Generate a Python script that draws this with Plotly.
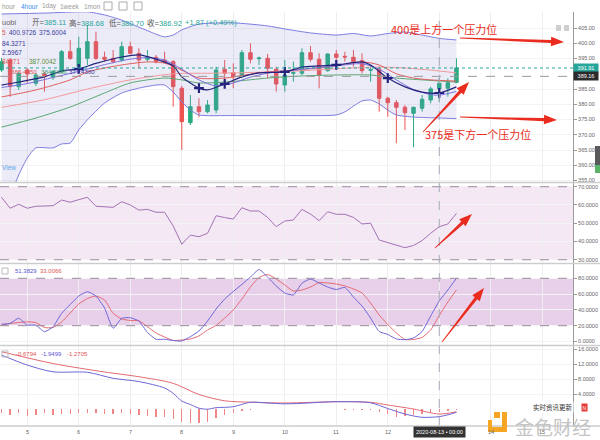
import math
import plotly.graph_objects as go

# ---------------- data ----------------
day_labels = [5, 6, 7, 8, 9, 10, 11, 12, 13, 14, 15]
candles_per_day = 6
day5_index = 3
cross_index = 51
cross_time_text = "2020-08-13 • 00:00"
cross_price = 389.16

opens = [391.25, 394.52, 385.77, 391.25, 386.89, 389.93, 388.85, 390.69, 397.25, 392.33,
         395.08, 400.52, 395.41, 395.08, 394.52, 398.89, 396.72, 394.75, 395.41, 394.52,
         393.97, 385.25, 373.97, 379.21, 377.57, 378.13, 391.48, 390.36, 389.05, 396.92,
         394.95, 395.08, 391.48, 386.33, 390.16, 390.16, 396.92, 394.75, 391.02, 396.49,
         395.74, 395.41, 394.30, 391.15, 391.48, 381.97, 380.52, 379.02, 377.05, 378.69,
         381.41, 385.11, 385.25, 387.20]
highs = [395.20, 395.18, 390.59, 391.90, 390.26, 390.59, 391.25, 397.80, 401.08, 402.16,
         406.00, 403.80, 397.25, 397.80, 400.52, 400.52, 398.36, 397.80, 396.16, 397.25,
         394.52, 386.00, 383.05, 381.97, 381.41, 392.33, 394.52, 393.44, 397.80, 400.00,
         395.61, 396.49, 392.33, 394.52, 393.97, 398.36, 399.11, 396.72, 396.72, 397.80,
         397.25, 397.80, 396.72, 392.89, 392.33, 382.49, 381.41, 379.77, 379.21, 383.05,
         385.77, 388.68, 388.52, 395.08]
lows = [390.60, 382.49, 384.69, 386.98, 386.00, 384.13, 387.97, 390.26, 394.52, 391.90,
        392.89, 394.52, 393.97, 393.44, 393.97, 396.40, 391.80, 393.97, 393.44, 393.44,
        379.21, 365.02, 373.21, 375.74, 377.05, 377.05, 386.33, 385.25, 388.52, 393.44,
        392.89, 388.52, 384.13, 384.13, 387.41, 389.61, 393.97, 385.25, 390.69, 393.44,
        393.97, 392.33, 390.16, 387.41, 377.57, 375.93, 367.21, 371.57, 365.90, 377.57,
        380.33, 380.70, 382.49, 386.89]
closes = [393.97, 385.77, 390.16, 389.93, 389.61, 389.28, 390.69, 397.25, 395.08, 398.36,
          400.52, 395.08, 394.75, 393.97, 398.89, 396.72, 394.52, 395.41, 393.97, 393.97,
          385.77, 374.30, 379.21, 377.57, 379.77, 391.25, 390.16, 389.05, 396.92, 394.75,
          395.18, 391.80, 386.66, 389.61, 390.36, 396.92, 394.75, 389.61, 396.49, 395.41,
          395.51, 393.97, 391.02, 391.34, 381.97, 380.52, 379.02, 377.25, 379.02, 381.64,
          385.05, 386.92, 387.08, 391.91]

boll_up_x = [0, 5, 10, 12, 14, 16, 18, 19, 20, 21, 23, 27, 31, 33, 36, 39, 41, 43, 45, 47, 49, 51, 53]
boll_up = [409.6, 409.9, 410.3, 409.3, 407.6, 405.3, 403.0, 402.1, 402.7, 404.4, 406.3, 406.7,
           405.7, 404.7, 403.4, 402.7, 403.2, 402.4, 403.2, 403.7, 402.7, 401.6, 401.1]
boll_lo_x = [0, 1, 2, 3, 4, 6, 7, 8, 9, 10, 12, 14, 16, 18, 19, 20, 21, 22, 23, 27, 33, 39,
             40, 41, 42, 43, 44, 45, 46, 48, 51, 53]
boll_lo = [347.0, 350.3, 356.8, 362.4, 365.7, 365.7, 367.0, 367.3, 371.6, 374.9, 380.4, 383.7,
           385.3, 386.3, 386.3, 384.0, 380.8, 378.1, 376.5, 376.3, 376.3, 376.5, 377.5, 379.4,
           381.1, 381.4, 380.1, 378.1, 376.5, 375.8, 375.5, 375.3]

navy_x = [0, 2, 5, 7, 9, 11, 14, 16, 18, 20, 21, 23, 24, 26, 28, 30, 33, 35, 37, 39, 42, 43, 45, 47, 49, 51, 53]
navy = [386.3, 387.3, 389.0, 390.9, 391.6, 393.4, 395.5, 396.2, 394.8, 392.6, 389.0, 385.3, 384.7,
        386.7, 389.0, 390.3, 390.6, 392.2, 392.6, 392.9, 393.9, 392.9, 388.6, 385.7, 384.0, 383.7, 385.7]
navy_cross_marks = [9, 23, 26, 33, 39, 45, 51]
purple_x = [0, 3, 6, 9, 12, 15, 17, 19, 21, 23, 25, 27, 29, 31, 33, 36, 39, 42, 44, 46, 48, 50, 51, 53]
purple = [385.5, 386.8, 388.8, 390.8, 393.0, 394.8, 395.3, 394.5, 391.5, 388.0, 386.0, 387.0,
          388.9, 390.2, 390.8, 391.8, 392.6, 393.3, 391.5, 388.0, 384.8, 383.2, 383.0, 384.2]
red_x = [0, 4, 8, 10, 14, 17, 19, 21, 23, 26, 30, 34, 38, 42, 44, 46, 48, 50, 53]
red_ma = [382.4, 384.7, 388.0, 390.6, 392.9, 393.9, 393.5, 391.2, 388.6, 388.6, 390.3, 391.2,
          392.2, 393.9, 392.9, 390.0, 388.6, 388.0, 387.6]
pink_x = [0, 5, 10, 15, 20, 25, 30, 35, 40, 44, 47, 50, 53]
pink_ma = [379.0, 381.5, 385.0, 388.0, 390.0, 390.2, 390.5, 391.0, 391.8, 392.2, 391.9, 391.2, 390.3]
green_x = [0, 4, 8, 12, 15, 19, 21, 23, 27, 31, 35, 39, 43, 46, 49, 53]
green_ma = [372.5, 375.5, 379.1, 383.7, 387.0, 388.6, 388.0, 387.0, 387.5, 388.6, 389.3, 389.6,
            389.6, 388.6, 388.0, 387.3]

rsi = [64.2, 58.2, 60.4, 58.2, 59.3, 59.4, 59.6, 62.7, 61.5, 62.9,
       64.2, 59.3, 59.0, 58.7, 61.8, 60.0, 57.2, 57.6, 56.0, 56.0,
       48.5, 38.5, 43.5, 42.6, 44.5, 54.1, 53.1, 52.3, 58.5, 56.7,
       56.7, 53.2, 48.1, 51.2, 51.8, 57.6, 55.0, 51.4, 56.3, 54.9,
       54.9, 53.2, 49.6, 50.0, 40.8, 39.3, 38.1, 36.6, 37.8, 40.5,
       44.5, 48.1, 49.6, 55.4]
kdj_k = [21.8, 23.0, 29.4, 20.9, 20.5, 12.4, 18.7, 35.7, 46.8, 57.6,
         63.0, 57.6, 42.4, 16.7, 29.4, 30.1, 25.9, 11.4, 2.8, 2.8,
         1.3, 0.6, 6.1, 13.3, 25.9, 41.1, 53.8, 63.3, 72.2, 81.6,
         91.1, 81.6, 70.3, 61.4, 58.9, 73.7, 79.1, 74.1, 69.0, 65.8,
         68.4, 56.3, 44.9, 29.7, 12.7, 8.9, 3.2, 2.3, 4.4, 12.7,
         32.3, 51.4, 65.2, 80.0]
kdj_d = [20.9, 22.8, 24.1, 24.9, 23.9, 17.7, 17.7, 24.7, 36.1, 47.5,
         54.4, 57.6, 52.5, 35.7, 28.5, 26.6, 26.3, 18.7, 10.8, 5.7,
         1.3, 1.9, 3.2, 7.0, 14.6, 20.3, 29.7, 39.9, 53.8, 69.0,
         81.0, 84.8, 79.1, 71.5, 63.9, 65.2, 69.0, 74.7, 74.1, 72.8,
         70.3, 66.5, 61.4, 48.7, 33.5, 21.5, 10.8, 2.5, 2.5, 5.1,
         14.6, 33.0, 50.0, 65.2]
dif_x = [0, 3, 6, 10, 13, 16, 19, 20, 21, 22, 23, 24, 25, 27, 29, 31, 33, 35, 39, 43, 45, 47, 49, 51, 52, 53]
dif = [14.48, 11.8, 10.0, 9.87, 8.27, 7.4, 5.68, 4.27, 2.2, 1.28, 0.29, 0.03, 0.43, 0.69, 1.89,
       1.68, 1.47, 1.6, 2.03, 1.73, 0.21, -1.25, -2.13, -1.95, -1.47, -0.8]
dea_x = [0, 6, 12, 16, 20, 23, 26, 29, 33, 39, 43, 45, 48, 51, 53]
dea = [15.36, 12.2, 9.95, 8.69, 6.93, 3.95, 2.27, 1.89, 1.68, 2.03, 1.87, 1.15, 0.08, -1.27, -0.64]
macd_hist = [-1.07, -1.52, -1.07, -1.79, -1.52, -1.07, -1.52, -1.25, -1.25, -1.07,
             -0.9, -1.07, -1.25, -1.25, -1.07, -1.25, -1.52, -1.79, -1.97, -2.13,
             -2.67, -3.31, -3.57, -3.57, -3.31, -2.4, -1.52, -1.07, -0.37, -0.19,
             0.1, 0.15, 0.12, 0.1, 0.12, 0.2, 0.2, 0.15, 0.1, 0.1,
             -0.1, -0.15, -0.2, -0.3, -0.64, -1.25, -2.13, -1.79, -1.52, -1.25,
             -0.9, -0.68, -0.37, -0.1]

price_ticks = [355, 360, 365, 370, 375, 380, 385, 395, 400, 405]
rsi_ticks = [30, 40, 50, 60, 70]
kdj_ticks = [0, 20, 40, 60, 80]
macd_ticks = [4, 8, 12, 16]
rsi_levels = [30, 70]
kdj_levels = [20, 80]

toolbar_items = ["hour", "4hour", "1day", "1week", "1mon"]
boll_legend = ["5", "400.9726", "375.6004"]
ma_legend = ["84.3271", "2.5967", "84271", "387.0042", "385.4850", "384.5686", "377.4380"]
kdj_legend = ["51.3829", "33.0066"]
macd_legend = ["-0.6794", "-1.9499", "-1.2705"]
note_up = "400是上方一个压力位"
note_down = "375是下方一个压力位"

# ---------------- layout helpers ----------------
W, H = 600, 440
GREEN = "#26ad7f"
RED = "#ef5350"
FONT = "Liberation Sans, Arial, Noto Sans CJK SC, sans-serif"
CJK = "Noto Sans CJK SC, sans-serif"


def px(x):
    return x / W


def py(y):
    return 1 - y / H


idx = list(range(len(opens)))
XR = [-0.18, 66.58]
day_idx = [day5_index + candles_per_day * (d - 5) for d in day_labels]

fig = go.Figure()

# Bollinger bands
fig.add_trace(go.Scatter(x=boll_up_x, y=boll_up, mode="lines", line=dict(color="#7c7ce0", width=1, shape="spline", smoothing=0.6),
                         xaxis="x", yaxis="y", hoverinfo="skip", showlegend=False))
fig.add_trace(go.Scatter(x=boll_lo_x, y=boll_lo, mode="lines", line=dict(color="#7c7ce0", width=1, shape="spline", smoothing=0.6),
                         fill="tonexty", fillcolor="rgba(125,125,205,0.15)",
                         xaxis="x", yaxis="y", hoverinfo="skip", showlegend=False))

# candles
fig.add_trace(go.Candlestick(x=idx, open=opens, high=highs, low=lows, close=closes,
                             increasing=dict(line=dict(color=GREEN, width=1), fillcolor=GREEN),
                             decreasing=dict(line=dict(color=RED, width=1), fillcolor=RED),
                             whiskerwidth=0, xaxis="x", yaxis="y", hoverinfo="skip", showlegend=False))

# moving averages
for xs, ys, col, w in [(green_x, green_ma, "#5aa772", 1), (pink_x, pink_ma, "#f29a9a", 1),
                       (red_x, red_ma, "#e06060", 1), (purple_x, purple, "#7b70dc", 1),
                       (navy_x, navy, "#23237e", 1.2)]:
    fig.add_trace(go.Scatter(x=xs, y=ys, mode="lines", line=dict(color=col, width=w, shape="spline", smoothing=0.7),
                             xaxis="x", yaxis="y", hoverinfo="skip", showlegend=False))
navy_lookup = dict(zip(navy_x, navy))
fig.add_trace(go.Scatter(x=navy_cross_marks, y=[navy_lookup[i] for i in navy_cross_marks], mode="markers",
                         marker=dict(symbol="cross-thin", size=7, line=dict(color="#23237e", width=2.2)),
                         xaxis="x", yaxis="y", hoverinfo="skip", showlegend=False))

# RSI
fig.add_trace(go.Scatter(x=idx, y=rsi, mode="lines", line=dict(color="#a472b6", width=1),
                         xaxis="x2", yaxis="y2", hoverinfo="skip", showlegend=False))
# KDJ
fig.add_trace(go.Scatter(x=idx, y=kdj_d, mode="lines", line=dict(color="#e46a72", width=1, shape="spline", smoothing=0.5),
                         xaxis="x3", yaxis="y3", hoverinfo="skip", showlegend=False))
fig.add_trace(go.Scatter(x=idx, y=kdj_k, mode="lines", line=dict(color="#6d66d8", width=1, shape="spline", smoothing=0.5),
                         xaxis="x3", yaxis="y3", hoverinfo="skip", showlegend=False))
# MACD
fig.add_trace(go.Bar(x=idx, y=macd_hist, width=0.16,
                     marker=dict(color=["#f08585" if v < 0 else "#7fcfa9" for v in macd_hist], line=dict(width=0)),
                     xaxis="x4", yaxis="y4", hoverinfo="skip", showlegend=False))
fig.add_trace(go.Scatter(x=dea_x, y=dea, mode="lines", line=dict(color="#e46a72", width=1, shape="spline", smoothing=0.8),
                         xaxis="x4", yaxis="y4", hoverinfo="skip", showlegend=False))
fig.add_trace(go.Scatter(x=dif_x, y=dif, mode="lines", line=dict(color="#6d66d8", width=1, shape="spline", smoothing=0.8),
                         xaxis="x4", yaxis="y4", hoverinfo="skip", showlegend=False))

# ---------------- axes ----------------
common_x = dict(range=XR, domain=[0, px(573)], showgrid=True, gridcolor="#eeeeee", gridwidth=1,
                tickvals=day_idx, showticklabels=False, ticks="", zeroline=False, showline=False, fixedrange=True)


def yax(dom, rng, ticks, fmt, anchor):
    return dict(domain=dom, range=rng, side="right", anchor=anchor, tickvals=ticks,
                ticktext=[fmt.format(t) for t in ticks],
                tickfont=dict(size=5.5, color="#666", family=FONT), showgrid=True, gridcolor="#f3f3f3",
                zeroline=False, showline=True, linecolor="#9a9a9a", linewidth=1, ticks="outside",
                ticklen=3, tickcolor="#9a9a9a", fixedrange=True)


fig.update_layout(
    width=W, height=H, autosize=False, margin=dict(l=0, r=0, t=0, b=0),
    paper_bgcolor="white", plot_bgcolor="white", hovermode=False, boxgap=0.42, bargap=0,
    showlegend=False, font=dict(family=FONT),
    xaxis=dict(**common_x, anchor="y", rangeslider=dict(visible=False)),
    xaxis2=dict(**common_x, anchor="y2"),
    xaxis3=dict(**common_x, anchor="y3"),
    xaxis4=dict(**common_x, anchor="y4"),
    yaxis=yax([py(182), py(12)], [354.52, 410.26], price_ticks, "{:.2f}", "x"),
    yaxis2=yax([py(263), py(183)], [28.22, 72.03], rsi_ticks, "{:.4f}", "x2"),
    yaxis3=yax([py(345), py(264)], [-4.43, 98.1], kdj_ticks, "{:.4f}", "x3"),
    yaxis4=yax([py(426), py(346)], [-4.45, 16.88], macd_ticks, "{:.4f}", "x4"),
)

shapes = []
# indicator zones
shapes.append(dict(type="rect", xref="x2 domain", x0=0, x1=1, yref="y2", y0=rsi_levels[0], y1=rsi_levels[1],
                   fillcolor="#f4e8f5", line=dict(width=0), layer="below"))
shapes.append(dict(type="rect", xref="x3 domain", x0=0, x1=1, yref="y3", y0=kdj_levels[0], y1=kdj_levels[1],
                   fillcolor="#e8d0ea", line=dict(width=0), layer="below"))
for lv in rsi_levels:
    shapes.append(dict(type="line", xref="x2 domain", x0=0, x1=1, yref="y2", y0=lv, y1=lv,
                       line=dict(color="#9a8a9c", width=1, dash="dash")))
for lv in kdj_levels:
    shapes.append(dict(type="line", xref="x3 domain", x0=0, x1=1, yref="y3", y0=lv, y1=lv,
                       line=dict(color="#9a8a9c", width=1, dash="dash")))
# price lines
shapes.append(dict(type="line", xref="x domain", x0=0, x1=1, yref="y", y0=closes[-1], y1=closes[-1],
                   line=dict(color="#26a69a", width=1, dash="dot")))
shapes.append(dict(type="line", xref="x domain", x0=0, x1=1, yref="y", y0=cross_price, y1=cross_price,
                   line=dict(color="#9a9a9a", width=1, dash="dash")))
# crosshair vertical
shapes.append(dict(type="line", xref="x", x0=cross_index, x1=cross_index, yref="paper", y0=py(426), y1=py(12),
                   line=dict(color="#a9a9bb", width=1, dash="dash")))
# panel separators
for yy in [182.5, 263.5, 345.5, 426]:
    shapes.append(dict(type="line", xref="paper", x0=0, x1=1, yref="paper", y0=py(yy), y1=py(yy),
                       line=dict(color="#cdcdcd", width=1.5)))


def arrow_path(x0, y0, x1, y1, tail_w=0.8, shaft_w=3.2, head_w=9.5, head_len=13):
    dx, dy = x1 - x0, y1 - y0
    L = math.hypot(dx, dy)
    ux, uy = dx / L, dy / L
    nx, ny = -uy, ux
    bx, by = x1 - ux * head_len, y1 - uy * head_len
    pts = [(x0 + nx * tail_w / 2, y0 + ny * tail_w / 2), (bx + nx * shaft_w / 2, by + ny * shaft_w / 2),
           (bx + nx * head_w / 2, by + ny * head_w / 2), (x1, y1),
           (bx - nx * head_w / 2, by - ny * head_w / 2), (bx - nx * shaft_w / 2, by - ny * shaft_w / 2),
           (x0 - nx * tail_w / 2, y0 - ny * tail_w / 2)]
    return "M " + " L ".join(f"{px(a):.5f},{py(b):.5f}" for a, b in pts) + " Z"


ARROW_RED = "#ea2b20"
for a in [(460, 38, 564, 42), (460, 117, 557, 120), (423, 132, 469, 82), (435, 248, 472, 214), (442, 342, 484, 288)]:
    shapes.append(dict(type="path", xref="paper", yref="paper", path=arrow_path(*a),
                       fillcolor=ARROW_RED, line=dict(width=0)))


def prect(x0, y0, x1, y1, fill=None, line=None):
    return dict(type="rect", xref="paper", yref="paper", x0=px(x0), x1=px(x1), y0=py(y1), y1=py(y0),
                fillcolor=fill or "rgba(0,0,0,0)", line=line or dict(width=0))


# toolbar icons
for x0 in [104, 119, 134]:
    shapes.append(prect(x0, 2, x0 + 8, 10, line=dict(color="#aaaaaa", width=1)))
# top-right icons
shapes.append(prect(556, 25, 561, 31, fill="#cfcfcf"))
shapes.append(prect(564, 25, 569, 31, fill="#cfcfcf"))
# indicator header icons
shapes.append(prect(2, 268, 8, 274, line=dict(color="#bbbbbb", width=1)))
shapes.append(prect(2, 351, 8, 357, line=dict(color="#bbbbbb", width=1)))
# scroll widget
shapes.append(prect(595, 146, 600, 165, fill="#5a5a5a"))
shapes.append(prect(595, 165, 600, 173, fill="#58b368"))
# watermark logo
for r in [(494, 412, 500, 418), (502, 412, 507, 431), (488, 427, 507, 432), (488, 420, 492, 432)]:
    shapes.append(prect(*r, fill="#f5a623"))

ann = []


def txt(x, y, s, size=6.5, color="#666", anchor="left", family=FONT, **kw):
    d = dict(xref="paper", yref="paper", x=px(x), y=py(y), text=s, showarrow=False,
             xanchor=anchor, yanchor="middle", font=dict(size=size, color=color, family=family))
    d.update(kw)
    ann.append(d)


# toolbar
for s, x in zip(toolbar_items, [0, 19, 40, 58, 82]):
    txt(x, 6, s, size=6.5, color="#3b8beb" if s == "4hour" else "#9a9a9a")

# header (OHLC at crosshair)
txt(0, 23, "uobi", size=7.5, color="#666")
VAL = "#26a69a"
for lab, v, x in [("开", opens[cross_index], 30), ("高", highs[cross_index], 67),
                  ("低", lows[cross_index], 107), ("收", closes[cross_index], 145)]:
    txt(x, 23, f'<span style="color:#555">{lab}=</span><span style="color:{VAL}">{v:.2f}</span>', size=7.5)
chg = closes[cross_index] - closes[cross_index - 1]
txt(183, 23, f"{chg:+.2f} ({chg / closes[cross_index - 1] * 100:+.2f}%)", size=7.5, color=VAL)

# legend rows
NAVY_T = "#3a3a9a"
txt(0, 33, boll_legend[0], color="#e05555")
txt(7, 33, boll_legend[1], color=NAVY_T)
txt(37, 33, boll_legend[2], color=NAVY_T)
txt(0, 43, ma_legend[0], color=NAVY_T)
txt(0, 52.5, ma_legend[1], color=NAVY_T)
txt(0, 62, ma_legend[2], color="#e05555")
txt(27, 62, ma_legend[3], color="#5a8f3a")
txt(9, 71.5, ma_legend[4], size=6.2, color="#e05555")
txt(39, 71.5, ma_legend[5], size=6.2, color="#3f9a6a")
txt(67, 71.5, ma_legend[6], size=6.2, color=NAVY_T)
txt(0, 167, "View", size=6.5, color="#5ea8e8")

# price labels
ann.append(dict(xref="paper", yref="y", x=px(573), y=closes[-1], text=f"{closes[-1]:.2f}", showarrow=False,
                xanchor="left", yanchor="middle", bgcolor="#26a69a", borderpad=1, width=22,
                font=dict(size=5.5, color="white", family=FONT)))
ann.append(dict(xref="paper", yref="y", x=px(573), y=cross_price, text=f"{cross_price:.2f}", showarrow=False,
                xanchor="left", yanchor="middle", bgcolor="#2b2b2b", borderpad=1, width=22,
                font=dict(size=5.5, color="white", family=FONT)))

# indicator legends
txt(13, 271, kdj_legend[0], size=6, color="#5a55d0")
txt(38, 271, kdj_legend[1], size=6, color="#e05555")
txt(14, 354, macd_legend[0], size=6, color="#e05555")
txt(39, 354, macd_legend[1], size=6, color="#5a55d0")
txt(65, 354, macd_legend[2], size=6, color="#e05555")

# notes
txt(444, 29, note_up, size=11, color=ARROW_RED, anchor="center", family=CJK)
txt(478, 134, note_down, size=11, color=ARROW_RED, anchor="center", family=CJK)

# day labels (the crosshair date box covers the 13th)
for d, k in zip(day_labels, day_idx):
    if k == cross_index:
        continue
    ann.append(dict(xref="x4", yref="paper", x=k, y=py(432), text=str(d), showarrow=False,
                    xanchor="center", yanchor="middle", font=dict(size=5.5, color="#666", family=FONT)))
ann.append(dict(xref="x4", yref="paper", x=cross_index, y=py(432), text=cross_time_text, showarrow=False,
                xanchor="center", yanchor="middle", bgcolor="#333333", borderpad=2,
                font=dict(size=5.5, color="white", family=FONT)))

# watermark
txt(553, 407, "实时资讯更新", size=6.5, color="#333", anchor="center", family=CJK, bgcolor="white", borderpad=0)
txt(584, 407, "N", size=5, color="white", anchor="center", bgcolor="#e53935", borderpad=0.5)
txt(553, 426, "金色财经", size=19, color="#c4c4c4", anchor="center", family=CJK)

fig.update_layout(shapes=shapes, annotations=ann)
fig.write_html("out.html", config={"displayModeBar": False, "staticPlot": True})
